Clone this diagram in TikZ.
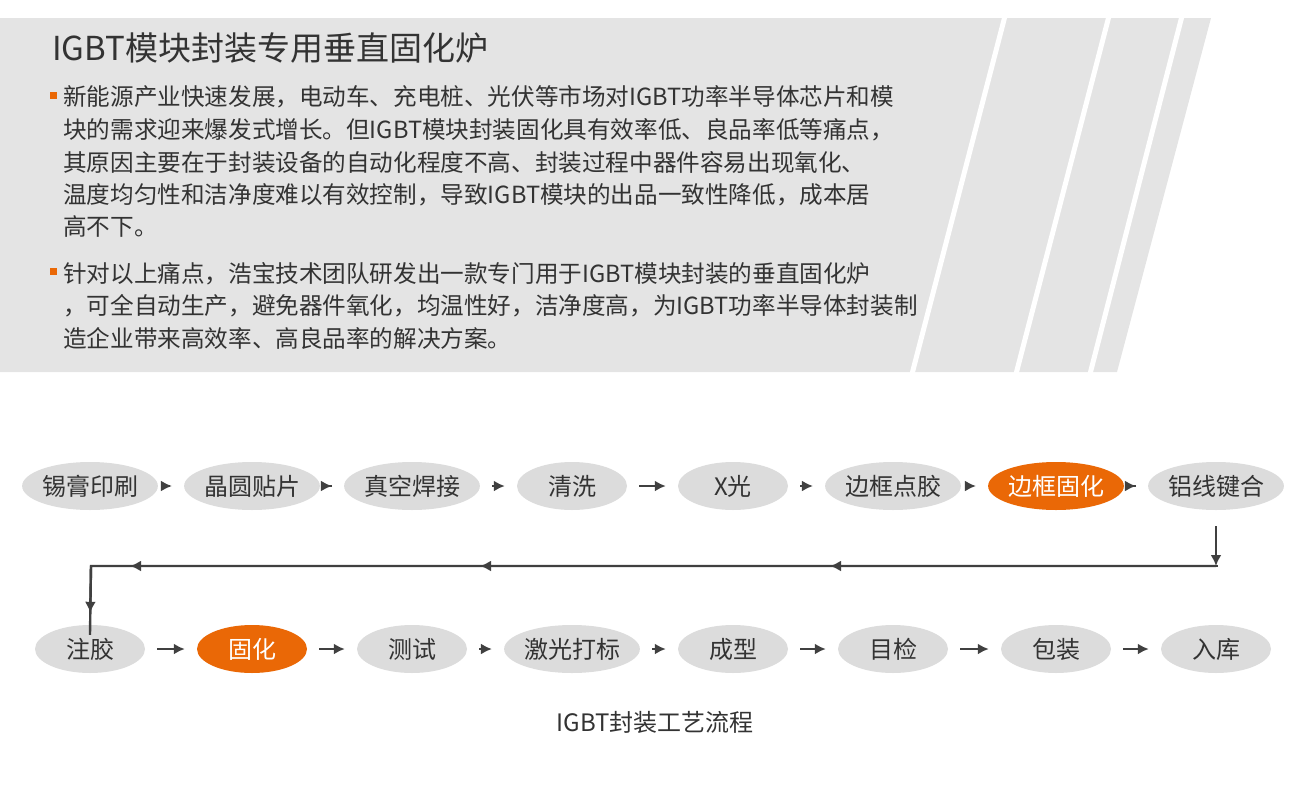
\documentclass[tikz,border=0pt]{standalone}
\usepackage{fontspec}
\setmainfont{Noto Sans CJK SC}
\newfontfamily\lightcjk{Noto Sans CJK SC Light}
\usetikzlibrary{arrows.meta,shapes.geometric}
\definecolor{bg}{RGB}{228,228,228}
\definecolor{ell}{RGB}{220,220,220}
\definecolor{org}{RGB}{234,104,6}
\definecolor{txt}{RGB}{51,51,51}
\definecolor{arr}{RGB}{64,64,64}
\tikzset{
 stepnode/.style={ellipse, fill=ell, minimum width=110pt, minimum height=48pt, inner sep=0pt, font=\fontsize{24}{28}\selectfont, text=txt},
 hot/.style={stepnode, fill=org, text=white},
 flow/.style={arr, line width=2.4pt, -{Latex[length=11pt,width=11pt]}},
 body/.style={anchor=west, text=txt, font=\fontsize{23.6}{28}\selectfont, inner sep=0pt},
}
\begin{document}
\begin{tikzpicture}[x=1pt,y=-1pt]
\useasboundingbox (0,0) rectangle (1310,806);
\fill[bg] (0,18) -- (1211,18) -- (1117,372) -- (0,372) -- cycle;
\foreach \a/\b in {1005/912, 1109/1016, 1182/1090}
  \draw[white, line width=5pt] (\a,16) -- (\b,374);
\node[anchor=west, text=txt, font=\fontsize{33}{38}\selectfont, inner sep=0pt] (title) at (52,48) {IGBT模块封装专用垂直固化炉};
\fill[org] (50,92) rectangle (57,99);
\fill[org] (50,268) rectangle (57,275);
\node[body] (l1) at (63,97) {新能源产业快速发展，电动车、充电桩、光伏等市场对IGBT功率半导体芯片和模};
\node[body] (l2) at (63,130) {块的需求迎来爆发式增长。但IGBT模块封装固化具有效率低、良品率低等痛点，};
\node[body] (l3) at (63,163) {其原因主要在于封装设备的自动化程度不高、封装过程中器件容易出现氧化、};
\node[body] (l4) at (63,195) {温度均匀性和洁净度难以有效控制，导致IGBT模块的出品一致性降低，成本居};
\node[body] (l5) at (63,226) {高不下。};
\node[body] (m1) at (63,274) {针对以上痛点，浩宝技术团队研发出一款专门用于IGBT模块封装的垂直固化炉};
\node[body] (m2) at (63,306) {，可全自动生产，避免器件氧化，均温性好，洁净度高，为IGBT功率半导体封装制};
\node[body] (m3) at (63,338) {造企业带来高效率、高良品率的解决方案。};
% row 1
\node[stepnode] (a1) at (90,486) {锡膏印刷};
\node[stepnode] (a2) at (252,486) {晶圆贴片};
\node[stepnode] (a3) at (412,486) {真空焊接};
\node[stepnode] (a4) at (572,486) {清洗};
\node[stepnode] (a5) at (733,486) {X光};
\node[stepnode] (a6) at (893,486) {边框点胶};
\node[hot] (a7) at (1056,486) {边框固化};
\node[stepnode] (a8) at (1216,486) {铝线键合};
% row 2
\node[stepnode] (b1) at (90,649) {注胶};
\node[hot] (b2) at (252,649) {固化};
\node[stepnode] (b3) at (412,649) {测试};
\node[stepnode] (b4) at (572,649) {激光打标};
\node[stepnode] (b5) at (733,649) {成型};
\node[stepnode] (b6) at (893,649) {目检};
\node[stepnode] (b7) at (1056,649) {包装};
\node[stepnode] (b8) at (1216,649) {入库};
\foreach \p/\q in {a1/a2,a2/a3,a3/a4,a4/a5,a5/a6,a6/a7,a7/a8,b1/b2,b2/b3,b3/b4,b4/b5,b5/b6,b6/b7,b7/b8}
  \draw[flow, shorten <=12pt, shorten >=12pt] (\p.east) -- (\q.west);
\coordinate (c1) at (1218,566);
\coordinate (c2) at (91,566);
\coordinate (m1c) at (830,566);
\coordinate (m2c) at (480,566);
\coordinate (m3c) at (130,566);
\draw[flow, shorten <=16pt] (a8.south) -- (a8.south |- c1);
\draw[arr, line width=2.4pt] (a8.south |- c1) -- (c2) -- ([yshift=-10pt]b1.north);
\draw[flow] (c1) -- (m1c);
\draw[flow] (m1c) -- (m2c);
\draw[flow] (m2c) -- (m3c);
\draw[flow, shorten >=12pt] (c2) -- (b1.north);
\node[text=txt, font=\fontsize{24}{28}\selectfont] (cap) at (655,722) {IGBT封装工艺流程};
\end{tikzpicture}
\end{document}
